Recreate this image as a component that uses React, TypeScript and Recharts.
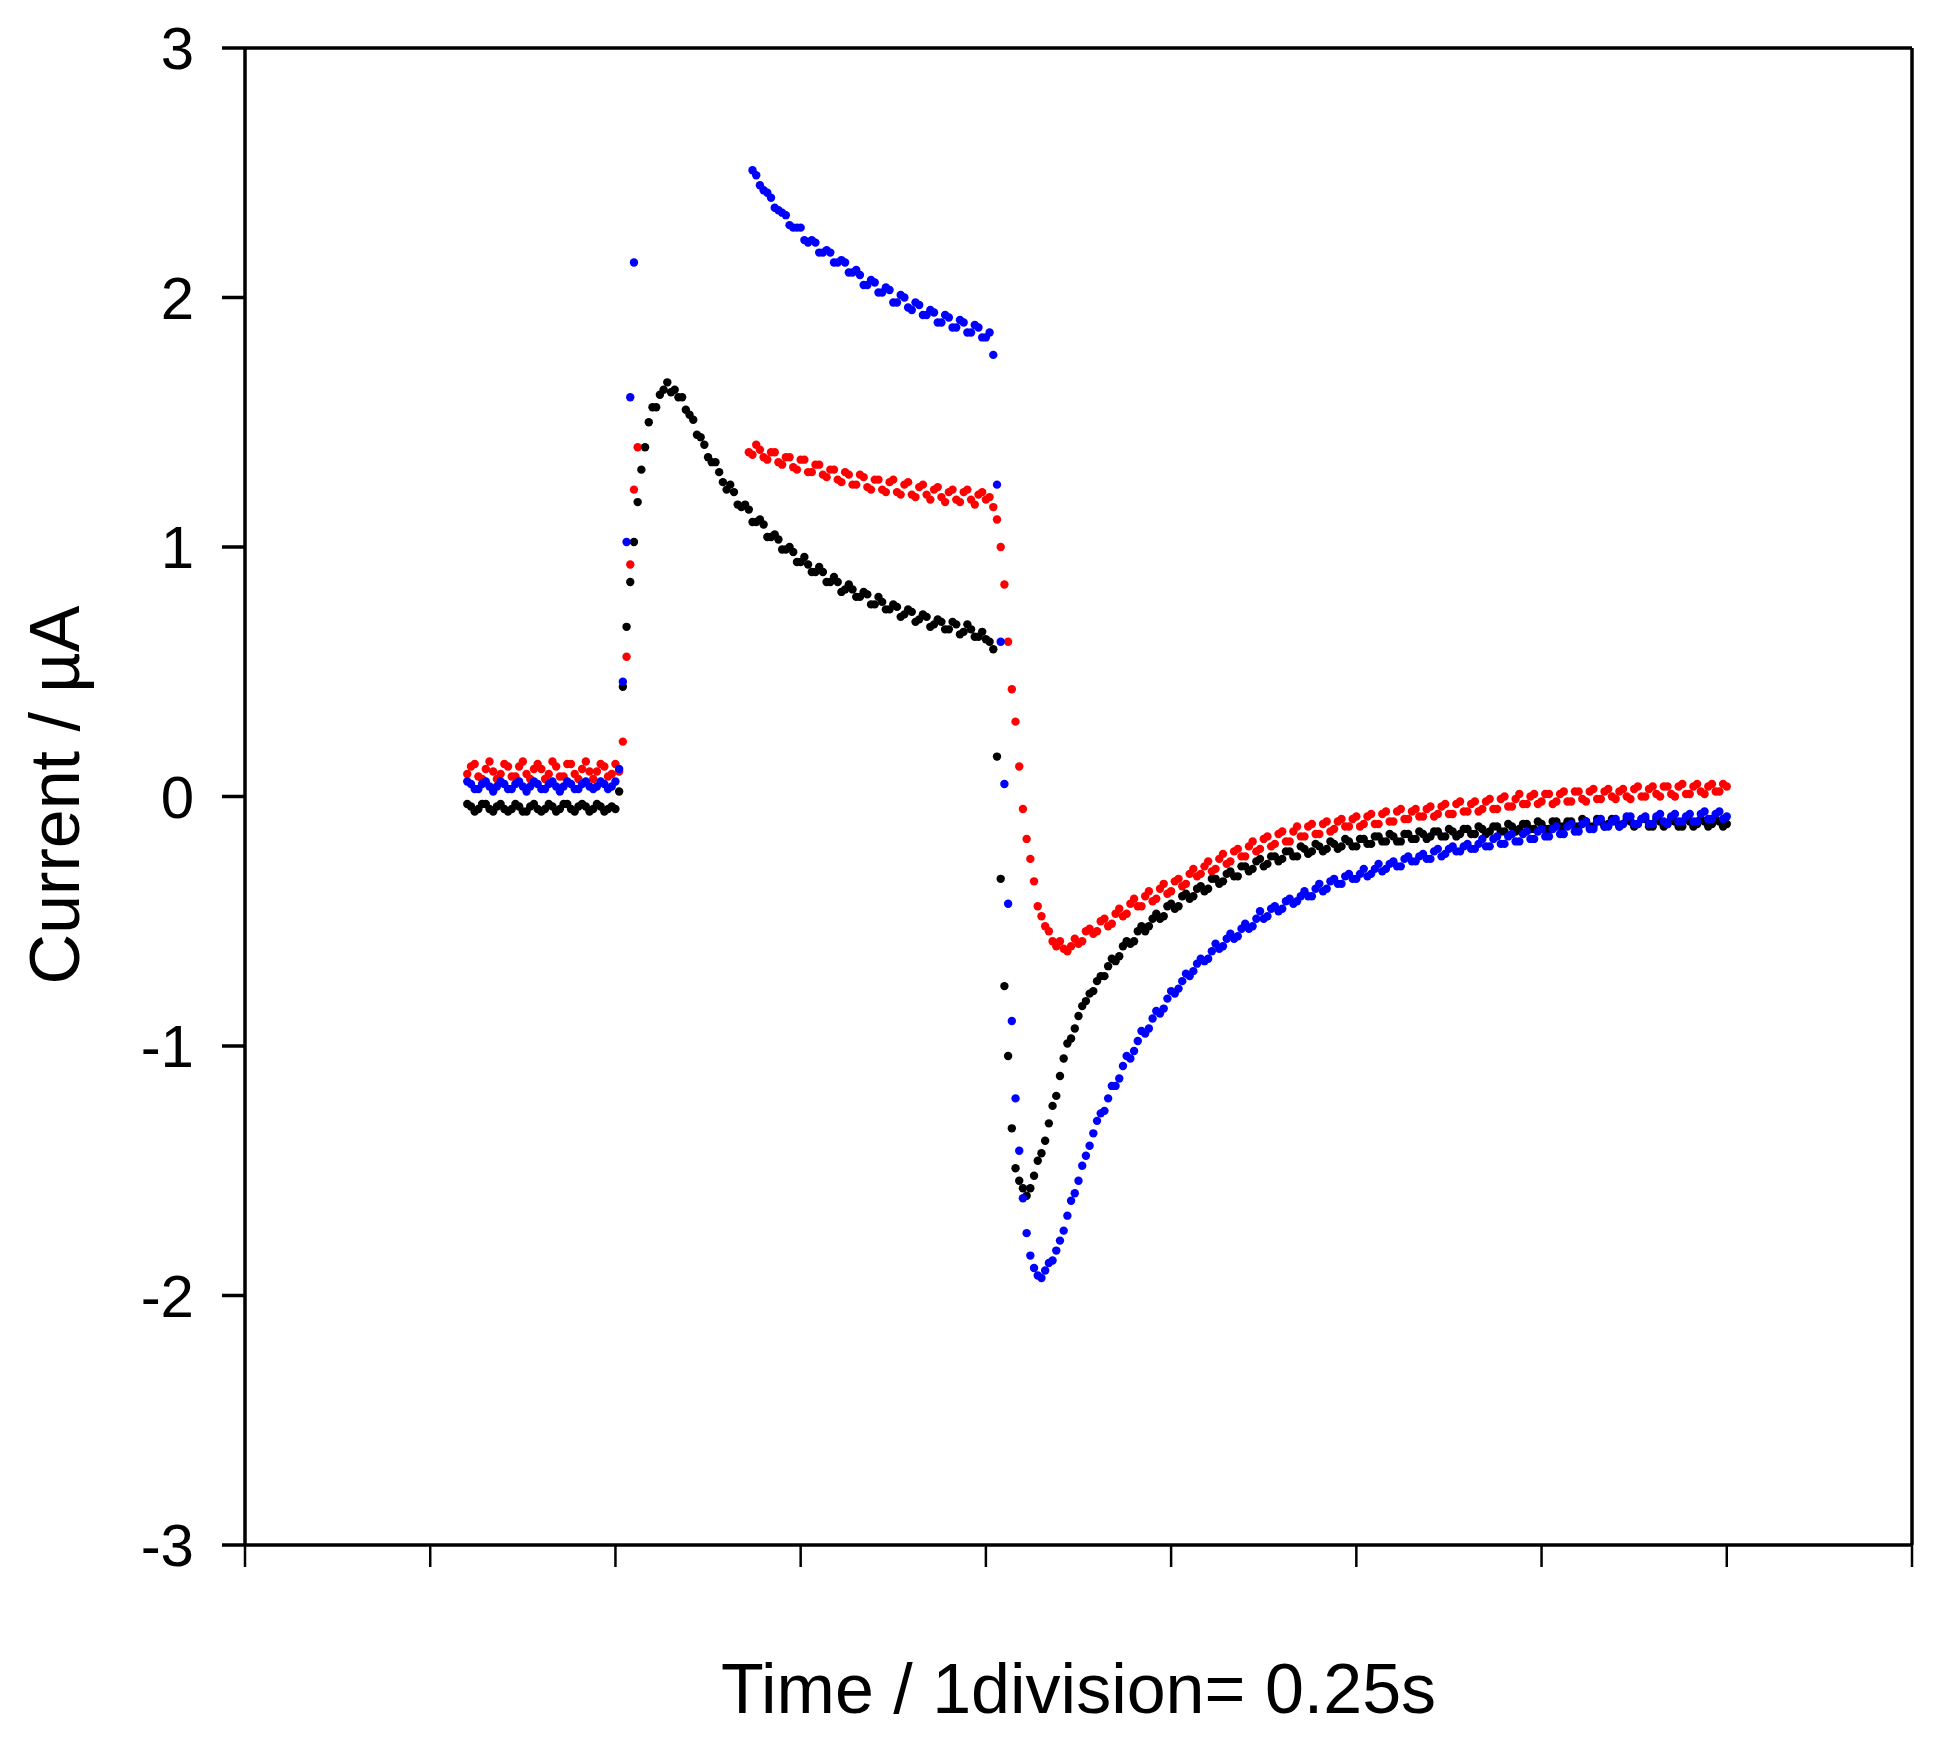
import { ScatterChart, Scatter, XAxis, YAxis, ReferenceLine } from "recharts"

// sampling interval of the recorder, in divisions (1 division = 0.25 s)
const STEP = 0.02

const xTicks = [0, 1, 2, 3, 4, 5, 6, 7, 8, 9]
const yTicks = [-3, -2, -1, 0, 1, 2, 3]

const FONT = "'Liberation Sans', Arial, Helvetica, sans-serif"

// ---- black trace (µA) ----
const blackBaseStart = 1.2
const blackBase = [
  -0.03, -0.04, -0.06, -0.05, -0.03, -0.03, -0.05, -0.06, -0.04, -0.03,
  -0.05, -0.06, -0.05, -0.03, -0.04, -0.06, -0.06, -0.04, -0.03, -0.05,
  -0.06, -0.05, -0.03, -0.04, -0.06, -0.05, -0.03, -0.03, -0.05, -0.06,
  -0.04, -0.03, -0.04, -0.06, -0.05, -0.03, -0.04, -0.06, -0.05, -0.04,
  -0.05,
]
const blackPulseStart = 2.02
const blackPulse = [
  0.02, 0.44, 0.68, 0.86, 1.02, 1.18, 1.31, 1.4, 1.5, 1.56,
  1.56, 1.61, 1.63, 1.66, 1.62, 1.63, 1.6, 1.6, 1.55, 1.53,
  1.51, 1.45, 1.44, 1.41, 1.36, 1.34, 1.34, 1.3, 1.26, 1.23,
  1.25, 1.22, 1.17, 1.16, 1.17, 1.15, 1.1, 1.1, 1.11, 1.09,
  1.04, 1.04, 1.05, 1.03, 0.99, 0.99, 1.0, 0.98, 0.94, 0.94,
  0.96, 0.93, 0.9, 0.9, 0.92, 0.9, 0.86, 0.86, 0.88, 0.86,
  0.82, 0.83, 0.85, 0.83, 0.8, 0.8, 0.82, 0.81, 0.77, 0.77,
  0.8, 0.78, 0.75, 0.75, 0.77, 0.76, 0.72, 0.73, 0.75, 0.74,
  0.7, 0.71, 0.73, 0.72, 0.68, 0.69, 0.71, 0.7, 0.67, 0.67,
  0.7, 0.69, 0.65, 0.66, 0.69, 0.67, 0.64, 0.64, 0.66, 0.63,
  0.62, 0.59,
]
const blackReturnStart = 4.06
const blackReturn = [
  0.16, -0.33, -0.76, -1.04, -1.33, -1.49, -1.54, -1.57, -1.6, -1.57,
  -1.52, -1.46, -1.43, -1.38, -1.31, -1.24, -1.2, -1.12, -1.05, -0.99,
  -0.97, -0.93, -0.88, -0.84, -0.82, -0.79, -0.78, -0.74, -0.72, -0.72,
  -0.68, -0.65, -0.66, -0.64, -0.6, -0.58, -0.59, -0.58, -0.54, -0.52,
  -0.54, -0.52, -0.49, -0.47, -0.49, -0.48, -0.44, -0.43, -0.45, -0.44,
  -0.4, -0.39, -0.41, -0.4, -0.37, -0.36, -0.38, -0.37, -0.33, -0.33,
  -0.35, -0.34, -0.31, -0.3, -0.32, -0.32, -0.28, -0.28, -0.3, -0.29,
  -0.26, -0.25, -0.28, -0.27, -0.24, -0.24, -0.26, -0.25, -0.22, -0.22,
  -0.24, -0.24, -0.2, -0.21, -0.23, -0.22, -0.19, -0.2, -0.22, -0.21,
  -0.18, -0.19, -0.21, -0.2, -0.17, -0.18, -0.2, -0.2, -0.17, -0.17,
  -0.19, -0.19, -0.16, -0.16, -0.18, -0.18, -0.15, -0.16, -0.18, -0.18,
  -0.15, -0.15, -0.17, -0.17, -0.14, -0.15, -0.17, -0.16, -0.14, -0.14,
  -0.16, -0.16, -0.13, -0.14, -0.16, -0.15, -0.13, -0.13, -0.15, -0.15,
  -0.12, -0.13, -0.15, -0.14, -0.12, -0.12, -0.14, -0.14, -0.11, -0.12,
  -0.14, -0.13, -0.11, -0.11, -0.13, -0.13, -0.1, -0.11, -0.13, -0.13,
  -0.1, -0.1, -0.12, -0.12, -0.1, -0.1, -0.12, -0.12, -0.09, -0.1,
  -0.12, -0.12, -0.09, -0.1, -0.12, -0.11, -0.09, -0.1, -0.12, -0.11,
  -0.09, -0.1, -0.12, -0.11, -0.09, -0.09, -0.12, -0.12, -0.09, -0.1,
  -0.12, -0.11, -0.09, -0.1, -0.12, -0.12, -0.09, -0.1, -0.12, -0.11,
  -0.09, -0.1, -0.12, -0.11, -0.09, -0.1, -0.12, -0.11,
]

// ---- blue trace (µA) ----
const blueBaseStart = 1.2
const blueBase = [
  0.06, 0.05, 0.03, 0.03, 0.05, 0.06, 0.04, 0.02, 0.04, 0.06,
  0.05, 0.03, 0.03, 0.05, 0.06, 0.04, 0.02, 0.04, 0.06, 0.05,
  0.03, 0.03, 0.05, 0.06, 0.04, 0.02, 0.04, 0.06, 0.05, 0.03,
  0.03, 0.05, 0.06, 0.04, 0.03, 0.04, 0.06, 0.05, 0.03, 0.04,
  0.06,
]
const blueRiseStart = 2.02
const blueRise = [0.11, 0.46, 1.02, 1.6, 2.14]
const bluePulseStart = 2.74
const bluePulse = [
  2.51, 2.49, 2.45, 2.43, 2.42, 2.4, 2.36, 2.35, 2.34, 2.33,
  2.29, 2.28, 2.28, 2.28, 2.23, 2.22, 2.23, 2.22, 2.18, 2.18,
  2.19, 2.18, 2.14, 2.14, 2.15, 2.14, 2.1, 2.1, 2.11, 2.09,
  2.05, 2.05, 2.07, 2.06, 2.02, 2.02, 2.04, 2.03, 1.98, 1.98,
  2.01, 2.0, 1.96, 1.95, 1.98, 1.97, 1.93, 1.93, 1.95, 1.94,
  1.9, 1.9, 1.93, 1.92, 1.88, 1.88, 1.91, 1.9, 1.86, 1.86,
  1.89, 1.88, 1.84, 1.84, 1.86, 1.77,
]
const blueReturnStart = 4.06
const blueReturn = [
  1.25, 0.62, 0.05, -0.43, -0.9, -1.21, -1.42, -1.61, -1.75, -1.84,
  -1.89, -1.92, -1.93, -1.9, -1.87, -1.86, -1.82, -1.78, -1.74, -1.68,
  -1.62, -1.59, -1.54, -1.48, -1.44, -1.4, -1.35, -1.3, -1.27, -1.26,
  -1.21, -1.16, -1.16, -1.13, -1.08, -1.04, -1.05, -1.02, -0.98, -0.94,
  -0.95, -0.93, -0.89, -0.86, -0.87, -0.85, -0.81, -0.78, -0.79, -0.77,
  -0.74, -0.71, -0.72, -0.7, -0.67, -0.65, -0.66, -0.65, -0.62, -0.59,
  -0.61, -0.6, -0.57, -0.55, -0.57, -0.56, -0.53, -0.51, -0.53, -0.52,
  -0.49, -0.46, -0.49, -0.48, -0.45, -0.44, -0.46, -0.45, -0.42, -0.41,
  -0.43, -0.42, -0.4, -0.38, -0.4, -0.4, -0.37, -0.35, -0.38, -0.37,
  -0.34, -0.33, -0.35, -0.35, -0.32, -0.31, -0.33, -0.33, -0.31, -0.29,
  -0.32, -0.31, -0.29, -0.27, -0.3, -0.29, -0.27, -0.26, -0.28, -0.28,
  -0.25, -0.24, -0.26, -0.26, -0.24, -0.23, -0.25, -0.25, -0.22, -0.21,
  -0.24, -0.23, -0.21, -0.2, -0.22, -0.22, -0.2, -0.19, -0.21, -0.21,
  -0.19, -0.17, -0.2, -0.2, -0.17, -0.16, -0.19, -0.19, -0.16, -0.15,
  -0.18, -0.18, -0.15, -0.14, -0.17, -0.17, -0.14, -0.13, -0.16, -0.16,
  -0.13, -0.12, -0.15, -0.15, -0.12, -0.11, -0.14, -0.14, -0.11, -0.1,
  -0.13, -0.13, -0.1, -0.09, -0.12, -0.12, -0.1, -0.09, -0.12, -0.11,
  -0.08, -0.08, -0.11, -0.11, -0.09, -0.08, -0.11, -0.11, -0.08, -0.07,
  -0.1, -0.11, -0.08, -0.07, -0.1, -0.1, -0.08, -0.07, -0.1, -0.1,
  -0.07, -0.06, -0.09, -0.09, -0.07, -0.06, -0.09, -0.08,
]

// ---- red trace (µA) ----
const redBaseStart = 1.2
const redBase = [
  0.09, 0.12, 0.13, 0.08, 0.07, 0.11, 0.14, 0.1, 0.07, 0.09,
  0.13, 0.12, 0.08, 0.08, 0.12, 0.14, 0.09, 0.07, 0.11, 0.13,
  0.11, 0.07, 0.09, 0.14, 0.12, 0.08, 0.08, 0.13, 0.13, 0.09,
  0.07, 0.11, 0.14, 0.1, 0.07, 0.1, 0.13, 0.12, 0.08, 0.09,
  0.13, 0.1,
]
const redRiseStart = 2.04
const redRise = [0.22, 0.56, 0.93, 1.23, 1.4]
const redPulseStart = 2.72
const redPulse = [
  1.38, 1.37, 1.41, 1.39, 1.36, 1.35, 1.38, 1.38, 1.34, 1.33,
  1.36, 1.36, 1.32, 1.31, 1.35, 1.35, 1.3, 1.3, 1.33, 1.33,
  1.29, 1.28, 1.31, 1.31, 1.27, 1.26, 1.3, 1.29, 1.25, 1.25,
  1.29, 1.28, 1.24, 1.23, 1.27, 1.27, 1.23, 1.22, 1.26, 1.27,
  1.22, 1.21, 1.25, 1.26, 1.21, 1.2, 1.24, 1.25, 1.21, 1.19,
  1.23, 1.24, 1.2, 1.18, 1.22, 1.23, 1.19, 1.18, 1.22, 1.23,
  1.19, 1.17, 1.21, 1.22, 1.19, 1.2, 1.16,
]
const redReturnStart = 4.06
const redReturn = [
  1.11, 1.0, 0.85, 0.62, 0.43, 0.3, 0.12, -0.05, -0.17, -0.25,
  -0.34, -0.44, -0.48, -0.52, -0.54, -0.58, -0.6, -0.58, -0.61, -0.62,
  -0.6, -0.57, -0.59, -0.58, -0.54, -0.53, -0.55, -0.54, -0.5, -0.49,
  -0.52, -0.51, -0.47, -0.45, -0.48, -0.47, -0.43, -0.41, -0.44, -0.44,
  -0.4, -0.38, -0.42, -0.41, -0.37, -0.35, -0.39, -0.38, -0.34, -0.33,
  -0.36, -0.35, -0.31, -0.29, -0.32, -0.31, -0.28, -0.26, -0.3, -0.29,
  -0.25, -0.23, -0.27, -0.26, -0.22, -0.21, -0.24, -0.24, -0.2, -0.18,
  -0.22, -0.21, -0.17, -0.16, -0.2, -0.19, -0.15, -0.14, -0.18, -0.18,
  -0.14, -0.12, -0.16, -0.16, -0.12, -0.11, -0.15, -0.15, -0.11, -0.1,
  -0.14, -0.13, -0.1, -0.09, -0.12, -0.12, -0.09, -0.08, -0.12, -0.11,
  -0.08, -0.07, -0.11, -0.11, -0.07, -0.06, -0.1, -0.1, -0.06, -0.05,
  -0.09, -0.09, -0.06, -0.05, -0.08, -0.08, -0.05, -0.04, -0.08, -0.07,
  -0.04, -0.03, -0.07, -0.07, -0.03, -0.02, -0.06, -0.06, -0.03, -0.02,
  -0.06, -0.05, -0.02, -0.01, -0.05, -0.05, -0.01, 0.0, -0.04, -0.04,
  -0.01, 0.01, -0.03, -0.03, 0.0, 0.01, -0.03, -0.02, 0.01, 0.01,
  -0.03, -0.02, 0.01, 0.02, -0.02, -0.02, 0.02, 0.02, -0.01, -0.02,
  0.02, 0.03, -0.01, -0.01, 0.02, 0.03, 0.0, -0.01, 0.02, 0.03,
  0.0, -0.01, 0.03, 0.04, 0.0, 0.0, 0.03, 0.04, 0.01, 0.0,
  0.04, 0.04, 0.01, 0.0, 0.04, 0.05, 0.01, 0.01, 0.04, 0.05,
  0.02, 0.01, 0.04, 0.05, 0.02, 0.02, 0.05, 0.04,
]

function toPoints(start: number, values: number[]) {
  return values.map((y, i) => ({ x: +(start + i * STEP).toFixed(3), y }))
}

const blackPoints = [
  ...toPoints(blackBaseStart, blackBase),
  ...toPoints(blackPulseStart, blackPulse),
  ...toPoints(blackReturnStart, blackReturn),
]
const bluePoints = [
  ...toPoints(blueBaseStart, blueBase),
  ...toPoints(blueRiseStart, blueRise),
  ...toPoints(bluePulseStart, bluePulse),
  ...toPoints(blueReturnStart, blueReturn),
]
const redPoints = [
  ...toPoints(redBaseStart, redBase),
  ...toPoints(redRiseStart, redRise),
  ...toPoints(redPulseStart, redPulse),
  ...toPoints(redReturnStart, redReturn),
]

const dot = (color: string) => (props: any) =>
  <circle cx={props.cx} cy={props.cy} r={4.2} fill={color} />

// x ticks carry no labels, only the tick marks
const noLabel = () => <g />

const xTitle = (props: any) => {
  const vb = props.viewBox ?? { x: 237, y: 1537, width: 1667 }
  return (
    <text x={vb.x + vb.width / 2} y={vb.y + 168} textAnchor="middle" fontSize={70} fontFamily={FONT} fill="#000">
      Time / 1division= 0.25s
    </text>
  )
}

const yTitle = () => (
  <text x={71} y={787} transform="rotate(-90, 71, 787)" textAnchor="middle" fontSize={70} fontFamily={FONT} fill="#000">
    Current / µA
  </text>
)

export default function App() {
  return (
    <div style={{ width: 1933, height: 1732 }}>
      <ScatterChart width={1933} height={1732} margin={{ top: 40, right: 29, bottom: 0, left: 0 }}>
        <XAxis
          type="number"
          dataKey="x"
          domain={[0, 9]}
          ticks={xTicks}
          tick={noLabel}
          tickSize={22}
          height={195}
          axisLine={{ stroke: "#000", strokeWidth: 3.5 }}
          tickLine={{ stroke: "#000", strokeWidth: 2.5 }}
          label={xTitle}
        />
        <YAxis
          type="number"
          dataKey="y"
          domain={[-3, 3]}
          ticks={yTicks}
          width={237}
          tickSize={23}
          tickMargin={28}
          tick={{ fontSize: 60, fill: "#000", fontFamily: FONT }}
          axisLine={{ stroke: "#000", strokeWidth: 3.5 }}
          tickLine={{ stroke: "#000", strokeWidth: 3.5 }}
          label={yTitle}
        />
        <ReferenceLine y={3} stroke="#000" strokeWidth={3.5} />
        <ReferenceLine x={9} stroke="#000" strokeWidth={3.5} />
        <Scatter data={redPoints} shape={dot("#ff0000")} isAnimationActive={false} />
        <Scatter data={blackPoints} shape={dot("#000000")} isAnimationActive={false} />
        <Scatter data={bluePoints} shape={dot("#0000ff")} isAnimationActive={false} />
      </ScatterChart>
    </div>
  )
}
